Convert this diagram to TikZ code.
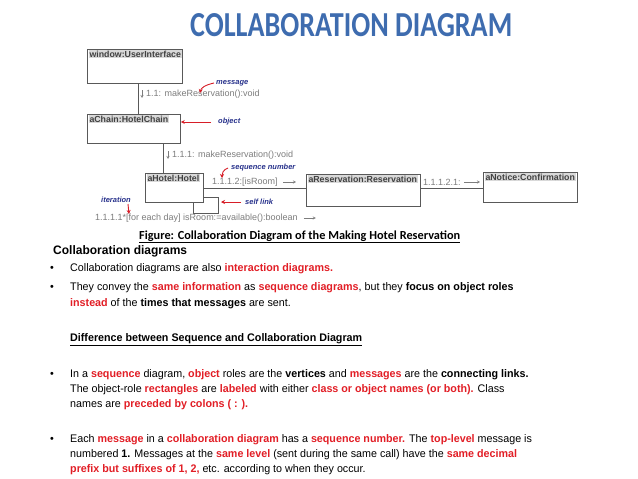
\documentclass[tikz,border=0pt]{standalone}
\usepackage{fontspec}
\setmainfont[FakeStretch=0.975]{Liberation Sans}
\newfontfamily\diagfont{Liberation Sans}
\newfontfamily\calib{Carlito}
\usetikzlibrary{arrows.meta}
\definecolor{hred}{RGB}{226,30,38}
\definecolor{ttlblue}{RGB}{62,108,175}
\definecolor{lblblue}{RGB}{40,50,140}
\definecolor{dgray}{RGB}{125,125,125}
\definecolor{redarr}{RGB}{215,30,40}
\newcommand\hlr[1]{\textcolor{hred}{\bfseries #1}}
\newcommand\hlb[1]{{\bfseries #1}}
\begin{document}
\begin{tikzpicture}[x=1pt,y=-1pt,
  obj/.style={draw=black!65, line width=0.8pt, anchor=north west, inner sep=0},
  hdrtxt/.style={font=\diagfont\fontsize{8.8}{10}\selectfont\bfseries, text=black!75, fill=black!15, inner sep=0.8pt, anchor=west},
  msg/.style={font=\diagfont\fontsize{9}{10}\selectfont, text=dgray, inner sep=0, anchor=west},
  lbl/.style={font=\diagfont\fontsize{7.5}{9}\selectfont\bfseries\itshape, text=lblblue, inner sep=0, anchor=west},
  redarrow/.style={draw=redarr, line width=0.9pt, -{Stealth[length=4pt,width=4pt]}},
  marr/.style={draw=dgray, line width=0.5pt, -{Stealth[open,length=3pt,width=3pt]}},
  link/.style={draw=black!65, line width=0.8pt},
  body/.style={font=\fontsize{11}{13}\selectfont, inner sep=0, anchor=base west},
  bul/.style={font=\fontsize{11}{13}\selectfont, inner sep=0, anchor=base west}
]
\useasboundingbox (0,0) rectangle (638,479);
\fill[white] (0,0) rectangle (638,479);

% title
\node[anchor=north west, inner sep=0, text=ttlblue] (title) at (190,13)
  {\resizebox{322pt}{23pt}{\calib\bfseries COLLABORATION DIAGRAM}};

% object boxes
\node[obj, minimum width=95pt, minimum height=34pt] (w) at (87,49) {};
\node[hdrtxt] (wt) at ([xshift=1.5pt,yshift=-5pt]w.north west) {window:UserInterface};
\node[obj, minimum width=93pt, minimum height=29pt] (c) at (87,114) {};
\node[hdrtxt] (ct) at ([xshift=1.5pt,yshift=-5pt]c.north west) {aChain:HotelChain};
\node[obj, minimum width=58pt, minimum height=29pt] (h) at (145,173) {};
\node[hdrtxt] (ht) at ([xshift=1.5pt,yshift=-5pt]h.north west) {aHotel:Hotel};
\node[obj, minimum width=114pt, minimum height=32pt] (r) at (306,174) {};
\node[hdrtxt] (rt) at ([xshift=1.5pt,yshift=-5pt]r.north west) {aReservation:Reservation};
\node[obj, minimum width=94pt, minimum height=30pt] (n) at (483,172) {};
\node[hdrtxt] (nt) at ([xshift=1.5pt,yshift=-5pt]n.north west) {aNotice:Confirmation};

% links
\draw[link] ([xshift=3.5pt]w.south) -- ([xshift=3.5pt]w.south |- c.north);
\draw[link] ([xshift=29.5pt]c.south) -- ([xshift=29.5pt]c.south |- h.north);
\draw[link] (h.east) -- (h.east -| r.west);
\draw[link] (h.east -| r.east) -- (h.east -| n.west);
\draw[link] ([xshift=-10pt]h.south east) -- ++(0,11) -- ++(25,0) -- ++(0,-16) -- ([yshift=5pt]h.south east);

% messages
\node[msg] (m1) at (146,94) {1.1: makeReservation():void};
\draw[marr] ([xshift=-4pt,yshift=4pt]m1.west) -- ([xshift=-4pt,yshift=-4pt]m1.west);
\node[msg] (m2) at (172,155) {1.1.1: makeReservation():void};
\draw[marr] ([xshift=-4pt,yshift=4pt]m2.west) -- ([xshift=-4pt,yshift=-4pt]m2.west);
\node[msg] (m3) at (212,182) {1.1.1.2:[isRoom]};
\draw[marr] ([xshift=-23pt]r.west |- m3.east) -- ++(13,0);
\node[msg] (m4) at (423,182) {1.1.1.2.1:};
\draw[marr] ([xshift=-19pt]n.west |- m4.east) -- ++(16,0);
\node[msg] (m5) at (95,218) {1.1.1.1*[for each day] isRoom:=available():boolean};
\draw[marr] ([xshift=6pt]m5.east) -- ++(12,0);

% annotation labels
\node[lbl] (lmsg) at (216,83) {message};
\draw[redarrow] ([xshift=-2pt]lmsg.west) .. controls (205,85) and (201,88) .. (200,93);
\node[lbl] (lobj) at (218,122) {object};
\draw[redarrow] ([xshift=-7pt]lobj.west) -- (c.east |- lobj.west);
\node[lbl] (lseq) at (231,168) {sequence number};
\draw[redarrow] ([xshift=-3pt]lseq.west) .. controls (223,170) and (222,173) .. (222,178);
\node[lbl] (lself) at (245,202) {self link};
\draw[redarrow] ([xshift=-4pt]lself.west) -- ++(-20,0);
\node[lbl] (liter) at (101,200) {iteration};
\draw[redarrow] ([xshift=27pt,yshift=-4pt]liter.west) -- ++(1,10);

% caption
\node[anchor=base west, inner sep=0, font=\calib\bfseries\fontsize{12.3}{14}\selectfont] (cap) at (139,239)
  {\underline{Figure: Collaboration Diagram of the Making Hotel Reservation}};

% body text
\node[body, font=\fontsize{12.3}{14}\selectfont\bfseries] (h1) at (53,254) {Collaboration diagrams};
\node[bul] (b1) at (50,271) {•};
\node[body] (l1) at (70,271) {Collaboration diagrams are also \hlr{interaction diagrams.}};
\node[bul] (b2) at (50,290) {•};
\node[body] (l2) at (70,290) {They convey the \hlr{same information} as \hlr{sequence diagrams}, but they \hlb{focus on object roles}};
\node[body] (l3) at (70,306) {\hlr{instead} of the \hlb{times that messages} are sent.};
\node[body] (h2) at (70,341) {\underline{\bfseries Difference between Sequence and Collaboration Diagram}};
\node[bul] (b3) at (50,377) {•};
\node[body] (l4) at (70,377) {In a \hlr{sequence} diagram, \hlr{object} roles are the \hlb{vertices} and \hlr{messages} are the \hlb{connecting links.}};
\node[body] (l5) at (70,392) {The object-role \hlr{rectangles} are \hlr{labeled} with either \hlr{class or object names (or both).} Class};
\node[body] (l6) at (70,407) {names are \hlr{preceded by colons ( : ).}};
\node[bul] (b4) at (50,442) {•};
\node[body] (l7) at (70,442) {Each \hlr{message} in a \hlr{collaboration diagram} has a \hlr{sequence number.} The \hlr{top-level} message is};
\node[body] (l8) at (70,457) {numbered \hlb{1.} Messages at the \hlr{same level} (sent during the same call) have the \hlr{same decimal}};
\node[body] (l9) at (70,472) {\hlr{prefix but suffixes of 1, 2,} etc. according to when they occur.};
\end{tikzpicture}
\end{document}
